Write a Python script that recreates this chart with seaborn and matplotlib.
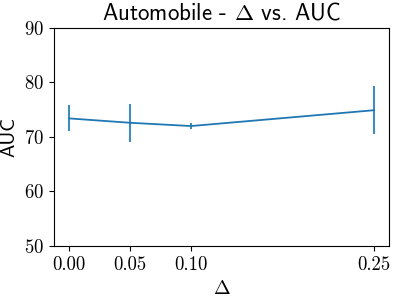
import matplotlib
matplotlib.use("Agg")
import matplotlib.pyplot as plt
import seaborn as sns
import pandas as pd

# valori
delta = [0.00, 0.05, 0.10, 0.25]
auc_mean = [73.4, 72.6, 72.0, 74.9]
auc_err = [2.4, 3.5, 0.6, 4.4]
tick_labels = ["0.00", "0.05", "0.10", "0.25"]

plt.rcParams['mathtext.fontset'] = 'cm'
plt.rcParams['axes.formatter.use_mathtext'] = True

df = pd.DataFrame({"delta": delta, "auc": auc_mean})

fig = plt.figure(figsize=(3.97, 3.0), dpi=100)
ax = fig.add_axes([0.136, 0.18, 0.844, 0.727])
sns.lineplot(data=df, x="delta", y="auc", ax=ax, color="C0", linewidth=1.3)
ax.errorbar(delta, auc_mean, yerr=auc_err, fmt='none', ecolor="C0", elinewidth=1.5, alpha=0.85)

ax.set_ylim(50, 90)
ax.set_yticks([50, 60, 70, 80, 90])
ax.set_xticks(delta)
ax.set_xticklabels(tick_labels)
for lab in ax.get_xticklabels() + ax.get_yticklabels():
    lab.set_fontfamily("cmr10")
    lab.set_fontsize(13.5)

ax.set_title(r"Automobile - $\Delta$ vs. AUC", fontfamily="cmss10", fontsize=16.5)
ax.set_ylabel("AUC", fontfamily="cmss10", fontsize=14.5)
ax.set_xlabel(r"$\Delta$", fontsize=14.5)

fig.savefig("out.png", dpi=100)
